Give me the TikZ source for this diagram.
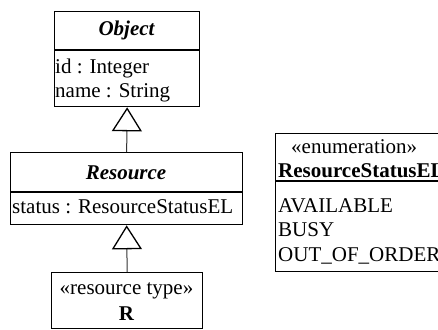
\documentclass[tikz,border=0pt]{standalone}
\usepackage{fontspec}
\setmainfont{Liberation Serif}
\usetikzlibrary{arrows.meta}
\begin{document}
\begin{tikzpicture}[x=1pt,y=-1pt,
  box/.style={draw, line width=1.3pt, inner sep=0pt, anchor=north west},
  txt/.style={font=\fontsize{21}{24}\selectfont, inner sep=0pt},
  ttl/.style={font=\fontsize{21}{24}\selectfont\bfseries\itshape, inner sep=0pt, anchor=base},
  attr/.style={txt, anchor=base west},
  divider/.style={line width=1.3pt},
  gen/.style={draw=black!80, line width=1pt,
    -{Triangle[open, length=24pt, width=30pt, line width=1.3pt, color=black, fill=white]}}]
\useasboundingbox (0,0) rectangle (438,329);
\clip (0,0) rectangle (438,329);
% Object
\node[box, minimum width=145pt, minimum height=95pt] (obj) at (54,11) {};
\draw[divider] ([yshift=-39pt]obj.north west) -- ([yshift=-39pt]obj.north east);
\node[ttl] (objname) at (126.5,36) {Object};
\node[attr] (objid) at (55,73) {id : Integer};
\node[attr] (objnm) at (55,97) {name : String};
% Resource
\node[box, minimum width=232pt, minimum height=72pt] (res) at (10,152) {};
\draw[divider] ([yshift=-40pt]res.north west) -- ([yshift=-40pt]res.north east);
\node[ttl] (resname) at (126,179) {Resource};
\node[attr] (resst) at (12,213) {status : ResourceStatusEL};
% R
\node[box, minimum width=151pt, minimum height=56pt] (rbox) at (51,272) {};
\node[txt, anchor=base] (rst) at (126.5,294) {«resource type»};
\node[txt, anchor=base, font=\fontsize{21}{24}\selectfont\bfseries] (rname) at (126.5,320) {R};
% Enumeration
\node[box, minimum width=170pt, minimum height=138pt] (enum) at (275,133) {};
\draw[divider] ([yshift=-48pt]enum.north west) -- ([yshift=-48pt]enum.north east);
\node[attr] (enst) at (291,153) {«enumeration»};
\node[attr, font=\fontsize{21}{24}\selectfont\bfseries] (enname) at (278,177) {ResourceStatusEL};
\node[attr] (en1) at (278,212) {AVAILABLE};
\node[attr] (en2) at (278,236) {BUSY};
\node[attr] (en3) at (278,261) {OUT\_OF\_ORDER};
% generalizations
\draw[gen] (res.north) -- (obj.south);
\draw[gen] (rbox.north) -- (res.south);
\end{tikzpicture}
\end{document}
